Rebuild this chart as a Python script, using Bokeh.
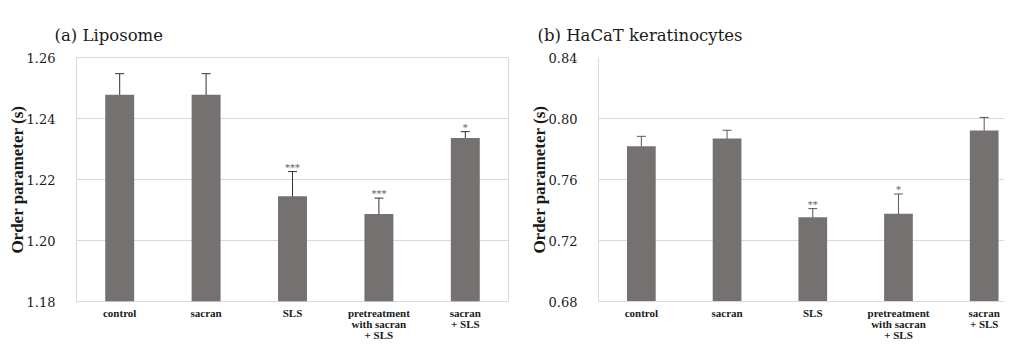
from bokeh.plotting import figure
from bokeh.models import ColumnDataSource, Whisker, TeeHead, FixedTicker, Range1d, PrintfTickFormatter
from bokeh.layouts import row
from bokeh.embed import file_html
from bokeh.resources import INLINE
from bokeh.core.properties import value

# ---- data ----
categories = ["control", "sacran", "SLS", "pretreatment\nwith sacran\n+ SLS", "sacran\n+ SLS"]

lipo_mean = [1.2478, 1.2478, 1.2145, 1.2087, 1.2336]
lipo_err = [0.0069, 0.0069, 0.0081, 0.0052, 0.0021]
lipo_sig = ["", "", "***", "***", "*"]
lipo_ticks = [1.18, 1.20, 1.22, 1.24, 1.26]

hacat_mean = [0.7818, 0.7869, 0.7352, 0.7376, 0.7921]
hacat_err = [0.0065, 0.0054, 0.0057, 0.0129, 0.0086]
hacat_sig = ["", "", "**", "*", ""]
hacat_ticks = [0.68, 0.72, 0.76, 0.80, 0.84]

titles = ["(a) Liposome", "(b) HaCaT keratinocytes"]
y_label = "Order parameter (s)"

BAR = "#767171"
GRID = "#d9d9d9"
TXT = "#1a1a1a"


def make(title, means, errs, sigs, ticks, width, border_left, border_right, x_end,
         err_color, title_offset, outline):
    xs = list(range(1, len(categories) + 1))
    src = ColumnDataSource(dict(
        x=xs, top=means,
        upper=[m + e for m, e in zip(means, errs)],
        lower=[m - e for m, e in zip(means, errs)],
        sig=sigs,
    ))
    p = figure(width=width, height=344,
               x_range=Range1d(0.5, x_end), y_range=Range1d(ticks[0], ticks[-1]),
               output_backend="svg", toolbar_location=None,
               min_border_left=border_left, min_border_right=border_right,
               min_border_top=57, min_border_bottom=40,
               background_fill_color="white", border_fill_color="white")
    p.vbar(x="x", top="top", bottom=ticks[0], width=0.335, source=src,
           fill_color=BAR, line_color=None)
    w = Whisker(base="x", upper="upper", lower="lower", source=src,
                line_color=err_color, line_width=1,
                upper_head=TeeHead(size=9, line_color=err_color, line_width=1),
                lower_head=TeeHead(size=9, line_color=err_color, line_width=1))
    p.add_layout(w)
    p.text(x="x", y="upper", text="sig", source=src, text_align="center",
           text_baseline="bottom", y_offset=1,
           text_font=value("DejaVu Serif"), text_font_size="10px",
           text_color="#595959")

    # title
    p.title.text = title
    p.title.align = "left"
    p.title.vertical_align = "top"
    p.title.offset = title_offset
    p.title.standoff = 22
    p.title.text_font = "DejaVu Serif"
    p.title.text_font_size = "16.5px"
    p.title.text_font_style = "normal"
    p.title.text_color = TXT

    # x axis
    p.xaxis.ticker = FixedTicker(ticks=xs)
    p.xaxis.major_label_overrides = {x: c for x, c in zip(xs, categories)}
    p.xaxis.major_label_text_font = "Liberation Serif"
    p.xaxis.major_label_text_font_style = "bold"
    p.xaxis.major_label_text_font_size = "11px"
    p.xaxis.major_label_text_line_height = 0.95
    p.xaxis.major_label_text_color = TXT
    p.xaxis.major_label_standoff = 5
    p.xaxis.major_tick_out = 0
    p.xaxis.major_tick_in = 0
    p.xaxis.minor_tick_out = 0
    p.xaxis.minor_tick_in = 0
    p.xaxis.major_tick_line_color = None
    p.xaxis.minor_tick_line_color = None
    p.xgrid.visible = False

    # y axis
    p.yaxis.ticker = FixedTicker(ticks=ticks)
    p.yaxis.formatter = PrintfTickFormatter(format="%.2f")
    p.yaxis.major_label_text_font = "DejaVu Serif"
    p.yaxis.major_label_text_font_size = "13px"
    p.yaxis.major_label_text_color = TXT
    p.yaxis.major_label_standoff = 15
    p.yaxis.major_tick_line_color = None
    p.yaxis.minor_tick_line_color = None
    p.yaxis.axis_label = y_label
    p.yaxis.axis_label_text_font = "Liberation Serif"
    p.yaxis.axis_label_text_font_style = "bold"
    p.yaxis.axis_label_text_font_size = "17px"
    p.yaxis.axis_label_text_color = TXT
    p.yaxis.axis_label_standoff = -3
    p.ygrid.ticker = FixedTicker(ticks=ticks)
    p.ygrid.grid_line_color = GRID

    if outline:
        p.outline_line_color = GRID
        p.xaxis.axis_line_color = None
        p.yaxis.axis_line_color = None
    else:
        p.outline_line_color = None
        p.xaxis.axis_line_color = GRID
        p.yaxis.axis_line_color = GRID
    return p


p1 = make(titles[0], lipo_mean, lipo_err, lipo_sig, lipo_ticks,
          width=509, border_left=76, border_right=1, x_end=5.5,
          err_color="#333333", title_offset=-22, outline=True)
p2 = make(titles[1], hacat_mean, hacat_err, hacat_sig, hacat_ticks,
          width=495, border_left=89, border_right=0, x_end=5.237,
          err_color="#595959", title_offset=-61, outline=False)

layout = row(p1, p2)
open("out.html", "w").write(file_html(layout, INLINE))
